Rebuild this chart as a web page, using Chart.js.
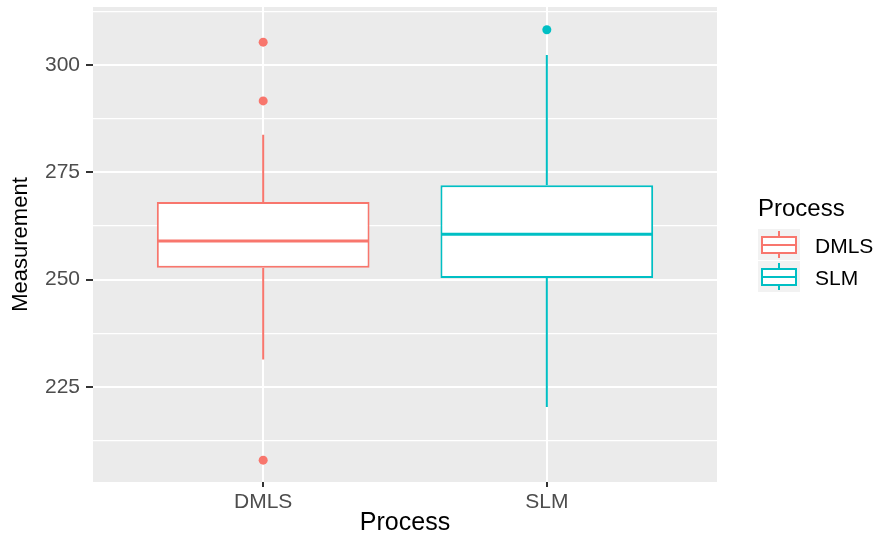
<!DOCTYPE html>
<html>
<head>
<meta charset="utf-8">
<script src="https://cdn.jsdelivr.net/npm/chart.js@4.4.1/dist/chart.umd.min.js"></script>
<style>
    body { margin: 0; background: #ffffff; }
    canvas { display: block; }
</style>
</head>
<body>
<canvas id="boxChart" width="878" height="538"></canvas>
<script>
// 分组与颜色
const groups = ['DMLS', 'SLM'];
const groupColors = ['#F8766D', '#00BFC4'];

// 箱线图统计量
const whiskerLow = [231.4, 220.3];
const q1 = [252.8, 250.4];
const median = [259.0, 260.6];
const q3 = [268.1, 272.0];
const whiskerHigh = [283.8, 302.4];

// 离群点
const outliers = [
    [305.4, 291.7, 207.9],
    [308.3]
];

// 坐标轴刻度
const yMajorTicks = [225, 250, 275, 300];
const yMinorTicks = [212.5, 237.5, 262.5, 287.5, 312.5];
const yMin = 202.8;
const yMax = 313.6;

const panelColor = '#EBEBEB';

// 背景面板
const panelPlugin = {
    id: 'panel',
    beforeDraw(chart) {
        const { ctx, chartArea } = chart;
        ctx.save();
        ctx.fillStyle = '#ffffff';
        ctx.fillRect(0, 0, chart.width, chart.height);
        ctx.fillStyle = panelColor;
        ctx.fillRect(chartArea.left, chartArea.top, chartArea.right - chartArea.left, chartArea.bottom - chartArea.top);
        ctx.restore();
    }
};

// 中位数线
const medianPlugin = {
    id: 'medianLine',
    afterDatasetsDraw(chart) {
        const { ctx } = chart;
        const yScale = chart.scales.y;
        const meta = chart.getDatasetMeta(0);
        ctx.save();
        ctx.lineWidth = 3;
        meta.data.forEach((bar, i) => {
            const y = yScale.getPixelForValue(median[i]);
            ctx.strokeStyle = groupColors[i];
            ctx.beginPath();
            ctx.moveTo(bar.x - bar.width / 2 + 1, y);
            ctx.lineTo(bar.x + bar.width / 2 - 1, y);
            ctx.stroke();
        });
        ctx.restore();
    }
};

// 图例（ggplot 风格）
const legendPlugin = {
    id: 'ggLegend',
    afterDraw(chart) {
        const { ctx, chartArea } = chart;
        const left = chartArea.right + 41;
        ctx.save();
        ctx.fillStyle = '#000000';
        ctx.font = '24px "Liberation Sans", Arial, sans-serif';
        ctx.textAlign = 'left';
        ctx.textBaseline = 'middle';
        ctx.fillText('Process', left, 209);

        groups.forEach((name, i) => {
            const top = 229 + i * 32;
            const cx = left + 21;
            ctx.fillStyle = '#F2F2F2';
            ctx.fillRect(left, top, 42, 31);

            ctx.strokeStyle = groupColors[i];
            ctx.lineWidth = 2;
            ctx.beginPath();
            ctx.moveTo(cx, top + 2);
            ctx.lineTo(cx, top + 29);
            ctx.stroke();
            ctx.fillStyle = '#ffffff';
            ctx.fillRect(left + 4, top + 8, 34, 16);
            ctx.strokeRect(left + 4, top + 8, 34, 16);
            ctx.beginPath();
            ctx.moveTo(left + 4, top + 16);
            ctx.lineTo(left + 38, top + 16);
            ctx.stroke();

            ctx.fillStyle = '#000000';
            ctx.font = '21px "Liberation Sans", Arial, sans-serif';
            ctx.fillText(name, left + 57, top + 18);
        });
        ctx.restore();
    }
};

// 组装数据集
const datasets = [];

datasets.push({
    type: 'bar',
    label: 'box',
    data: groups.map((g, i) => ({ x: i + 1, y: [q1[i], q3[i]] })),
    backgroundColor: '#ffffff',
    borderColor: groupColors,
    borderWidth: 2,
    borderSkipped: false,
    categoryPercentage: 1,
    barPercentage: 0.75,
    order: 2
});

groups.forEach((g, i) => {
    datasets.push({
        type: 'line',
        label: g + ' whisker',
        data: [
            { x: i + 1, y: whiskerLow[i] },
            { x: i + 1, y: q1[i] },
            { x: i + 1, y: null },
            { x: i + 1, y: q3[i] },
            { x: i + 1, y: whiskerHigh[i] }
        ],
        borderColor: groupColors[i],
        borderWidth: 2,
        pointRadius: 0,
        spanGaps: false,
        order: 3
    });
});

groups.forEach((g, i) => {
    datasets.push({
        type: 'scatter',
        label: g + ' outliers',
        data: outliers[i].map(v => ({ x: i + 1, y: v })),
        backgroundColor: groupColors[i],
        borderWidth: 0,
        pointRadius: 4.5,
        order: 1
    });
});

Chart.defaults.font.family = '"Liberation Sans", Arial, sans-serif';

const ctx = document.getElementById('boxChart');
new Chart(ctx, {
    type: 'bar',
    data: { datasets: datasets },
    options: {
        responsive: false,
        animation: false,
        devicePixelRatio: 1,
        events: [],
        layout: { padding: { top: 7, right: 161, bottom: 0, left: 0 } },
        plugins: {
            legend: { display: false },
            tooltip: { enabled: false }
        },
        scales: {
            x: {
                type: 'linear',
                min: 0.4,
                max: 2.6,
                offset: false,
                afterFit(scale) {
                    scale.height = 56;
                    scale.paddingLeft = 0;
                    scale.paddingRight = 0;
                },
                afterBuildTicks(scale) {
                    scale.ticks = groups.map((g, i) => ({ value: i + 1 }));
                },
                ticks: {
                    autoSkip: false,
                    maxRotation: 0,
                    padding: 3,
                    color: '#4D4D4D',
                    font: { size: 21 },
                    callback: (value) => groups[value - 1]
                },
                grid: {
                    offset: false,
                    color: '#ffffff',
                    lineWidth: 2,
                    tickColor: '#333333',
                    tickLength: 5,
                    tickWidth: 2
                },
                border: { display: false },
                title: {
                    display: true,
                    text: 'Process',
                    color: '#000000',
                    font: { size: 25 },
                    padding: { top: 0, bottom: 0 }
                }
            },
            y: {
                type: 'linear',
                min: yMin,
                max: yMax,
                beginAtZero: false,
                afterFit(scale) {
                    scale.width = 93;
                    scale.paddingTop = 0;
                    scale.paddingBottom = 0;
                },
                afterBuildTicks(scale) {
                    const all = yMajorTicks.map(v => ({ value: v, major: true }))
                        .concat(yMinorTicks.map(v => ({ value: v, major: false })));
                    all.sort((a, b) => a.value - b.value);
                    scale.ticks = all;
                },
                ticks: {
                    autoSkip: false,
                    padding: 6,
                    color: '#4D4D4D',
                    font: { size: 21 },
                    callback: (value, index, ticks) => ticks[index].major ? String(value) : ''
                },
                grid: {
                    color: '#ffffff',
                    lineWidth: (c) => (c.tick && c.tick.major) ? 2 : 1.2,
                    tickColor: (c) => (c.tick && c.tick.major) ? '#333333' : 'rgba(0,0,0,0)',
                    tickLength: 7,
                    tickWidth: 2
                },
                border: { display: false },
                title: {
                    display: true,
                    text: 'Measurement',
                    color: '#000000',
                    font: { size: 22 },
                    padding: { top: 8, bottom: 0 }
                }
            }
        }
    },
    plugins: [panelPlugin, medianPlugin, legendPlugin]
});
</script>
</body>
</html>
